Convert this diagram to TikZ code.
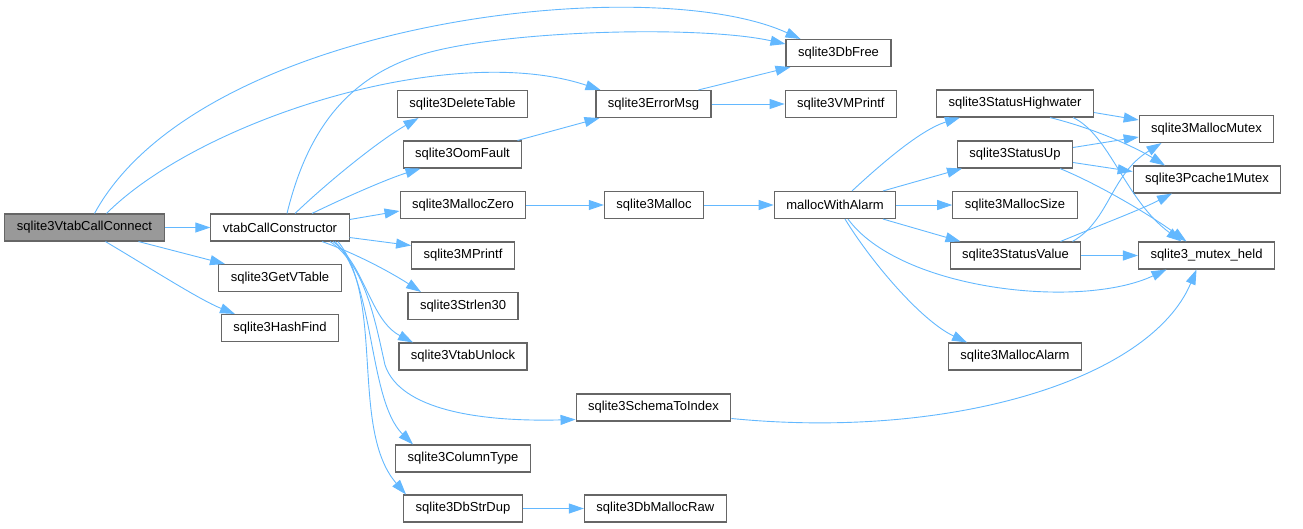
\documentclass[tikz,border=0pt]{standalone}
\usepackage{fontspec}
\setmainfont{Liberation Sans}
\usepackage{xcolor}
\usepackage{tikz}
\usetikzlibrary{arrows.meta,positioning}
\definecolor{edgeblue}{HTML}{63B8FF}
\definecolor{boxgray}{HTML}{666666}
\definecolor{rootgray}{HTML}{999999}

\begin{document}
\begin{tikzpicture}[x=1pt,y=-1pt,
    fn/.style={draw=boxgray, line width=1.1pt, fill=white, minimum height=27pt, inner xsep=12pt, font=\fontsize{13}{15}\selectfont},
    root/.style={fn, fill=rootgray},
    call/.style={draw=edgeblue, line width=.9pt, -{Triangle[length=15pt,width=10pt]}}]
      \useasboundingbox (0,0) rectangle (1303,528);
      \node (connect) at (84.5,227.5) [root] {sqlite3VtabCallConnect};
      \node (ctor) at (280,227.5) [fn] {vtabCallConstructor};
      \node (getvt) at (280,278) [fn] {sqlite3GetVTable};
      \node (hashfind) at (280,328) [fn] {sqlite3HashFind};
      \node (dbfree) at (838.5,53) [fn] {sqlite3DbFree};
      \node (deltable) at (462.5,104) [fn] {sqlite3DeleteTable};
      \node (errmsg) at (653.5,104) [fn] {sqlite3ErrorMsg};
      \node (vmprintf) [fn, right=73pt of errmsg] {sqlite3VMPrintf};
      \node (oomfault) at (462.5,154.5) [fn] {sqlite3OomFault};
      \node (malloczero) at (463,205) [fn] {sqlite3MallocZero};
      \node (malloc) at (654,205) [fn] {sqlite3Malloc};
      \node (withalarm) at (835,205) [fn] {mallocWithAlarm};
      \node (highwater) at (1015,103.5) [fn] {sqlite3StatusHighwater};
      \node (statusup) at (1015,154.5) [fn] {sqlite3StatusUp};
      \node (mallocsize) at (1015,205) [fn] {sqlite3MallocSize};
      \node (statusvalue) at (1015.5,255.5) [fn] {sqlite3StatusValue};
      \node (mallocalarm) at (1015,356.5) [fn] {sqlite3MallocAlarm};
      \node (mallocmutex) at (1206.5,129) [fn] {sqlite3MallocMutex};
      \node (pcache) at (1207,179.5) [fn] {sqlite3Pcache1Mutex};
      \node (mutexheld) at (1206.5,255.5) [fn] {sqlite3\_mutex\_held};
      \node (mprintf) at (463,255.5) [fn] {sqlite3MPrintf};
      \node (strlen) at (463,306) [fn] {sqlite3Strlen30};
      \node (vtabunlock) at (463,356.5) [fn] {sqlite3VtabUnlock};
      \node (schema) at (653.5,407.5) [fn] {sqlite3SchemaToIndex};
      \node (coltype) at (463,458.5) [fn] {sqlite3ColumnType};
      \node (dbstrdup) at (463,508.5) [fn] {sqlite3DbStrDup};
      \node (dbmallocraw) [fn, right=61pt of dbstrdup] {sqlite3DbMallocRaw};

      \draw[call] (connect) -- (ctor);
      \draw[call] ([xshift=54pt]connect.south) -- ([xshift=-55pt]getvt.north);
      \draw[call] ([xshift=21pt]connect.south) .. controls (150,268) and (200,300) .. ([xshift=-45pt]hashfind.north);
      \draw[call] ([xshift=10pt]connect.north) .. controls (200,20) and (650,-30) .. ([xshift=-38pt]dbfree.north);
      \draw[call] ([xshift=22pt]connect.north) .. controls (200,120) and (450,40) .. ([xshift=-53pt]errmsg.north);

      \draw[call] ([xshift=7pt]ctor.north) .. controls (305,140) and (340,80) .. (420,55) .. controls (500,30) and (700,25) .. ([yshift=9pt]dbfree.west);
      \draw[call] ([xshift=15pt]ctor.north) .. controls (330,180) and (380,140) .. ([xshift=-44pt]deltable.south);
      \draw[call] ([xshift=32pt]ctor.north) .. controls (350,195) and (390,178) .. ([xshift=-42pt]oomfault.south);
      \draw[call] ([yshift=8pt]ctor.east) -- ([yshift=-6pt]malloczero.west);
      \draw[call] ([yshift=-10pt]ctor.east) -- ([yshift=10pt]mprintf.west);
      \draw[call] ([xshift=42pt]ctor.south) .. controls (360,255) and (395,275) .. ([xshift=-42pt]strlen.north);
      \draw[call] ([xshift=53pt]ctor.south) .. controls (365,265) and (370,320) .. ([xshift=-50pt]vtabunlock.north);
      \draw[call] ([xshift=50pt]ctor.south) .. controls (365,265) and (375,320) .. (385,365) .. controls (400,410) and (480,422) .. ([yshift=-12pt]schema.west);
      \draw[call] ([xshift=55pt]ctor.south) .. controls (375,280) and (368,400) .. ([xshift=-50pt]coltype.north);
      \draw[call] ([xshift=58pt]ctor.south) .. controls (385,300) and (350,430) .. ([xshift=-57pt]dbstrdup.north);

      \draw[call] ([xshift=45pt]errmsg.north) -- ([xshift=-48pt]dbfree.south);
      \draw[call] (errmsg) -- (vmprintf);
      \draw[call] ([xshift=55pt]oomfault.north) -- ([xshift=-54pt]errmsg.south);
      \draw[call] (malloczero) -- (malloc);
      \draw[call] (malloc) -- (withalarm);
      \draw[call] (dbstrdup) -- (dbmallocraw);
      \draw[call] ([yshift=-11pt]schema.east) .. controls (950,440) and (1150,380) .. ([xshift=-10pt]mutexheld.south);

      \draw[call] ([xshift=17pt]withalarm.north) .. controls (880,165) and (920,130) .. ([xshift=-55pt]highwater.south);
      \draw[call] ([xshift=48pt]withalarm.north) -- ([xshift=-53pt]statusup.south);
      \draw[call] (withalarm) -- (mallocsize);
      \draw[call] ([xshift=48pt]withalarm.south) -- ([xshift=-55pt]statusvalue.north);
      \draw[call] ([xshift=10pt]withalarm.south) .. controls (870,260) and (920,320) .. ([xshift=-48pt]mallocalarm.north);
      \draw[call] ([xshift=13pt]withalarm.south) .. controls (900,290) and (1080,310) .. ([xshift=-40pt]mutexheld.south);

      \draw[call] ([yshift=-9pt]highwater.east) -- ([yshift=9pt]mallocmutex.west);
      \draw[call] ([xshift=35pt]highwater.south) .. controls (1100,130) and (1140,150) .. ([xshift=-42pt]pcache.north);
      \draw[call] ([xshift=58pt]highwater.south) .. controls (1110,135) and (1125,200) .. ([xshift=-25pt]mutexheld.north);
      \draw[call] ([yshift=7pt]statusup.east) -- ([yshift=-8pt]mallocmutex.west);
      \draw[call] ([yshift=-8pt]statusup.east) -- ([yshift=8pt]pcache.west);
      \draw[call] ([xshift=45pt]statusup.south) .. controls (1100,185) and (1150,215) .. ([xshift=-20pt]mutexheld.north);
      \draw[call] ([xshift=57pt]statusvalue.north) .. controls (1110,220) and (1110,175) .. ([xshift=-45pt]mallocmutex.south);
      \draw[call] ([xshift=45pt]statusvalue.north) .. controls (1100,225) and (1140,210) .. ([xshift=-35pt]pcache.south);
      \draw[call] (statusvalue) -- (mutexheld);

    \end{tikzpicture}
\end{document}
